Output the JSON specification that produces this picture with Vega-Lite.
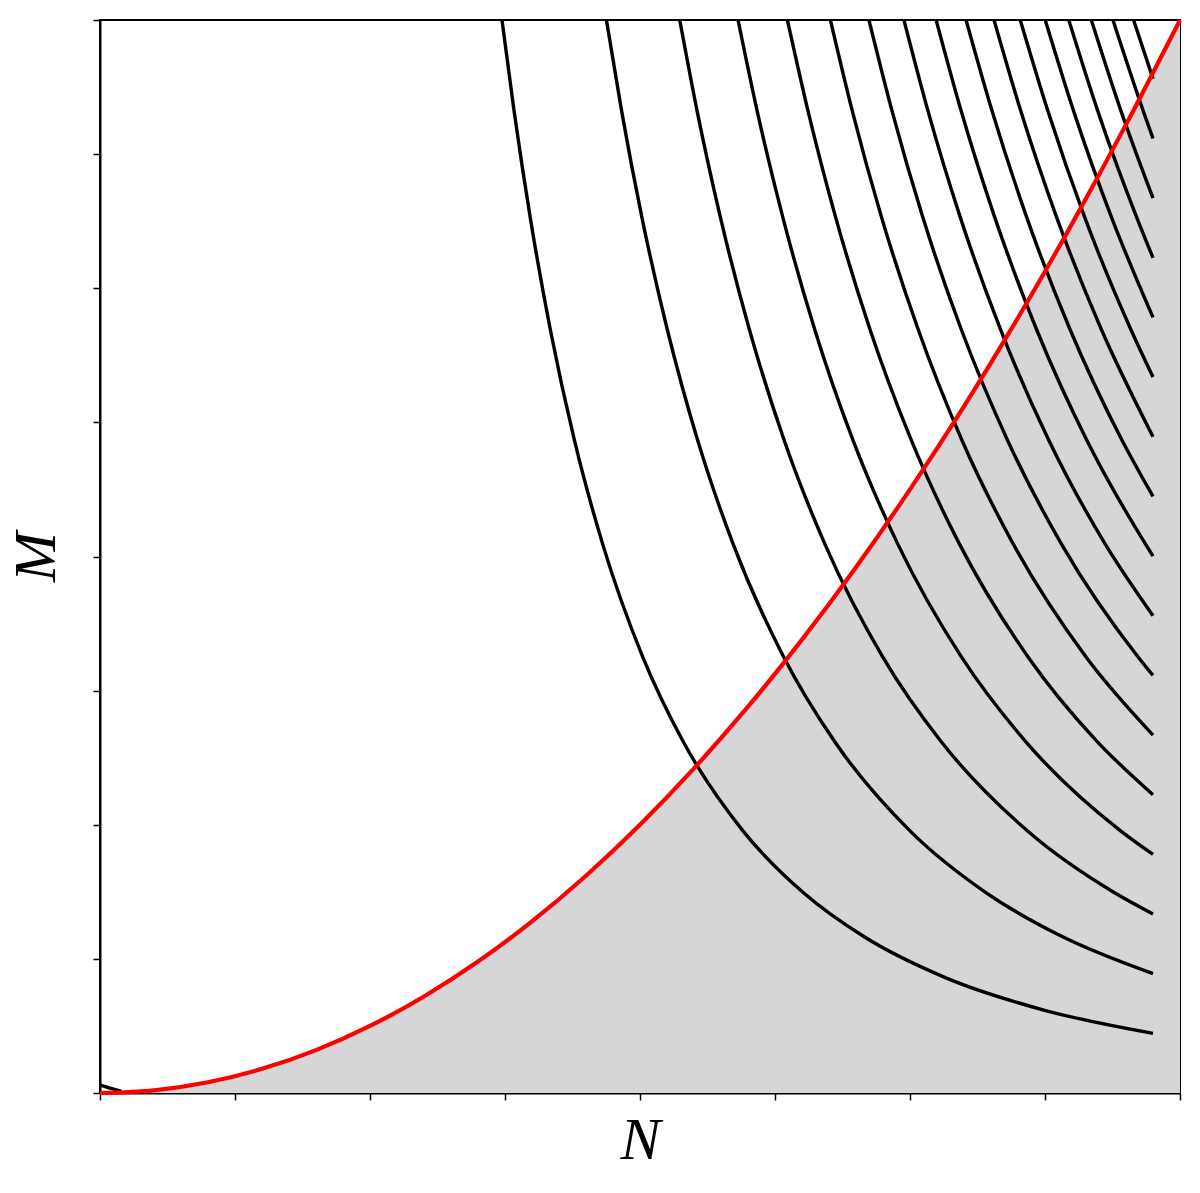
{
  "$schema": "https://vega.github.io/schema/vega-lite/v6.json",
  "width": 1080,
  "height": 1073,
  "autosize": {"type": "none"},
  "padding": {"left": 100, "top": 20, "right": 20, "bottom": 100},
  "background": "white",
  "config": {
    "view": {"stroke": "black", "strokeWidth": 2},
    "axis": {
      "grid": false,
      "labels": false,
      "ticks": true,
      "tickColor": "black",
      "tickWidth": 1.5,
      "tickSize": 7,
      "domainColor": "black",
      "domainWidth": 2,
      "titleFont": "Liberation Serif",
      "titleFontStyle": "italic",
      "titleFontWeight": "normal",
      "titleFontSize": 60,
      "titleColor": "black"
    }
  },
  "datasets": {
    "red": [
      {"x": 0, "y": 0}, {"x": 0.05, "y": 0.0025}, {"x": 0.1, "y": 0.01}, {"x": 0.15, "y": 0.0225},
      {"x": 0.2, "y": 0.04}, {"x": 0.25, "y": 0.0625}, {"x": 0.3, "y": 0.09}, {"x": 0.35, "y": 0.1225},
      {"x": 0.4, "y": 0.16}, {"x": 0.45, "y": 0.2025}, {"x": 0.5, "y": 0.25}, {"x": 0.55, "y": 0.3025},
      {"x": 0.6, "y": 0.36}, {"x": 0.65, "y": 0.4225}, {"x": 0.7, "y": 0.49}, {"x": 0.75, "y": 0.5625},
      {"x": 0.8, "y": 0.64}, {"x": 0.85, "y": 0.7225}, {"x": 0.9, "y": 0.81}, {"x": 0.95, "y": 0.9025},
      {"x": 1, "y": 1}
    ],
    "black": [
      {"k": 0, "x": 0, "y": 0.0075}, {"k": 0, "x": 0.01, "y": 0.0042}, {"k": 0, "x": 0.02, "y": 0.0015},
      {"k": 1, "x": 0.3722, "y": 1}, {"k": 1, "x": 0.3834, "y": 0.9151}, {"k": 1, "x": 0.3983, "y": 0.8163},
      {"k": 1, "x": 0.4169, "y": 0.7118}, {"k": 1, "x": 0.4392, "y": 0.6086}, {"k": 1, "x": 0.4653, "y": 0.512},
      {"k": 1, "x": 0.5025, "y": 0.4064}, {"k": 1, "x": 0.5397, "y": 0.328}, {"k": 1, "x": 0.5955, "y": 0.2441},
      {"k": 1, "x": 0.6514, "y": 0.1866}, {"k": 1, "x": 0.7072, "y": 0.1458}, {"k": 1, "x": 0.7816, "y": 0.108},
      {"k": 1, "x": 0.8747, "y": 0.0771}, {"k": 1, "x": 0.975, "y": 0.0556},
      {"k": 2, "x": 0.4689, "y": 1}, {"k": 2, "x": 0.483, "y": 0.9151}, {"k": 2, "x": 0.5017, "y": 0.8163},
      {"k": 2, "x": 0.5252, "y": 0.7118}, {"k": 2, "x": 0.5533, "y": 0.6086}, {"k": 2, "x": 0.5861, "y": 0.512},
      {"k": 2, "x": 0.633, "y": 0.4064}, {"k": 2, "x": 0.6799, "y": 0.328}, {"k": 2, "x": 0.7502, "y": 0.2441},
      {"k": 2, "x": 0.8206, "y": 0.1866}, {"k": 2, "x": 0.8909, "y": 0.1458}, {"k": 2, "x": 0.975, "y": 0.1112},
      {"k": 3, "x": 0.5368, "y": 1}, {"k": 3, "x": 0.5529, "y": 0.9151}, {"k": 3, "x": 0.5744, "y": 0.8163},
      {"k": 3, "x": 0.6012, "y": 0.7118}, {"k": 3, "x": 0.6334, "y": 0.6086}, {"k": 3, "x": 0.671, "y": 0.512},
      {"k": 3, "x": 0.7247, "y": 0.4064}, {"k": 3, "x": 0.7784, "y": 0.328}, {"k": 3, "x": 0.8589, "y": 0.2441},
      {"k": 3, "x": 0.9394, "y": 0.1866}, {"k": 3, "x": 0.975, "y": 0.1668},
      {"k": 4, "x": 0.5908, "y": 1}, {"k": 4, "x": 0.6085, "y": 0.9151}, {"k": 4, "x": 0.6322, "y": 0.8163},
      {"k": 4, "x": 0.6617, "y": 0.7118}, {"k": 4, "x": 0.6971, "y": 0.6086}, {"k": 4, "x": 0.7385, "y": 0.512},
      {"k": 4, "x": 0.7976, "y": 0.4064}, {"k": 4, "x": 0.8567, "y": 0.328}, {"k": 4, "x": 0.9453, "y": 0.2441},
      {"k": 4, "x": 0.975, "y": 0.2224},
      {"k": 5, "x": 0.6365, "y": 1}, {"k": 5, "x": 0.6556, "y": 0.9151}, {"k": 5, "x": 0.6811, "y": 0.8163},
      {"k": 5, "x": 0.7129, "y": 0.7118}, {"k": 5, "x": 0.7511, "y": 0.6086}, {"k": 5, "x": 0.7956, "y": 0.512},
      {"k": 5, "x": 0.8593, "y": 0.4064}, {"k": 5, "x": 0.9229, "y": 0.328}, {"k": 5, "x": 0.975, "y": 0.278},
      {"k": 6, "x": 0.6763, "y": 1}, {"k": 6, "x": 0.6966, "y": 0.9151}, {"k": 6, "x": 0.7236, "y": 0.8163},
      {"k": 6, "x": 0.7575, "y": 0.7118}, {"k": 6, "x": 0.798, "y": 0.6086}, {"k": 6, "x": 0.8454, "y": 0.512},
      {"k": 6, "x": 0.913, "y": 0.4064}, {"k": 6, "x": 0.975, "y": 0.3336},
      {"k": 7, "x": 0.712, "y": 1}, {"k": 7, "x": 0.7334, "y": 0.9151}, {"k": 7, "x": 0.7618, "y": 0.8163},
      {"k": 7, "x": 0.7974, "y": 0.7118}, {"k": 7, "x": 0.8402, "y": 0.6086}, {"k": 7, "x": 0.89, "y": 0.512},
      {"k": 7, "x": 0.9612, "y": 0.4064}, {"k": 7, "x": 0.975, "y": 0.3892},
      {"k": 8, "x": 0.7444, "y": 1}, {"k": 8, "x": 0.7667, "y": 0.9151}, {"k": 8, "x": 0.7965, "y": 0.8163},
      {"k": 8, "x": 0.8337, "y": 0.7118}, {"k": 8, "x": 0.8784, "y": 0.6086}, {"k": 8, "x": 0.9305, "y": 0.512},
      {"k": 8, "x": 0.975, "y": 0.4448},
      {"k": 9, "x": 0.7742, "y": 1}, {"k": 9, "x": 0.7974, "y": 0.9151}, {"k": 9, "x": 0.8284, "y": 0.8163},
      {"k": 9, "x": 0.8671, "y": 0.7118}, {"k": 9, "x": 0.9136, "y": 0.6086}, {"k": 9, "x": 0.9678, "y": 0.512},
      {"k": 9, "x": 0.975, "y": 0.5004},
      {"k": 10, "x": 0.8019, "y": 1}, {"k": 10, "x": 0.826, "y": 0.9151}, {"k": 10, "x": 0.858, "y": 0.8163},
      {"k": 10, "x": 0.8981, "y": 0.7118}, {"k": 10, "x": 0.9462, "y": 0.6086}, {"k": 10, "x": 0.975, "y": 0.556},
      {"k": 11, "x": 0.8278, "y": 1}, {"k": 11, "x": 0.8526, "y": 0.9151}, {"k": 11, "x": 0.8857, "y": 0.8163},
      {"k": 11, "x": 0.9271, "y": 0.7118}, {"k": 11, "x": 0.975, "y": 0.6116},
      {"k": 12, "x": 0.8521, "y": 1}, {"k": 12, "x": 0.8777, "y": 0.9151}, {"k": 12, "x": 0.9117, "y": 0.8163},
      {"k": 12, "x": 0.9544, "y": 0.7118}, {"k": 12, "x": 0.975, "y": 0.6672},
      {"k": 13, "x": 0.8752, "y": 1}, {"k": 13, "x": 0.9015, "y": 0.9151}, {"k": 13, "x": 0.9365, "y": 0.8163},
      {"k": 13, "x": 0.975, "y": 0.7228},
      {"k": 14, "x": 0.897, "y": 1}, {"k": 14, "x": 0.9239, "y": 0.9151}, {"k": 14, "x": 0.9598, "y": 0.8163},
      {"k": 14, "x": 0.975, "y": 0.7784},
      {"k": 15, "x": 0.9179, "y": 1}, {"k": 15, "x": 0.9454, "y": 0.9151}, {"k": 15, "x": 0.975, "y": 0.834},
      {"k": 16, "x": 0.9379, "y": 1}, {"k": 16, "x": 0.966, "y": 0.9151}, {"k": 16, "x": 0.975, "y": 0.8896},
      {"k": 17, "x": 0.957, "y": 1}, {"k": 17, "x": 0.975, "y": 0.9452}
    ]
  },
  "encoding": {
    "x": {
      "field": "x", "type": "quantitative",
      "scale": {"domain": [0, 1], "nice": false, "zero": false},
      "axis": {"title": "N", "values": [0, 0.125, 0.25, 0.375, 0.5, 0.625, 0.75, 0.875, 1], "titlePadding": 11}
    },
    "y": {
      "field": "y", "type": "quantitative",
      "scale": {"domain": [0, 1], "nice": false, "zero": false},
      "axis": {"title": "M", "values": [0, 0.125, 0.25, 0.375, 0.5, 0.625, 0.75, 0.875, 1], "titlePadding": 25}
    }
  },
  "layer": [
    {
      "data": {"name": "red"},
      "mark": {"type": "area", "color": "#d6d6d6", "interpolate": "monotone"}
    },
    {
      "data": {"name": "black"},
      "mark": {"type": "line", "color": "black", "strokeWidth": 3.4, "interpolate": "monotone", "clip": true},
      "encoding": {"detail": {"field": "k", "type": "nominal"}}
    },
    {
      "data": {"name": "red"},
      "mark": {"type": "line", "color": "#ff0000", "strokeWidth": 4.2, "interpolate": "monotone"}
    }
  ]
}
